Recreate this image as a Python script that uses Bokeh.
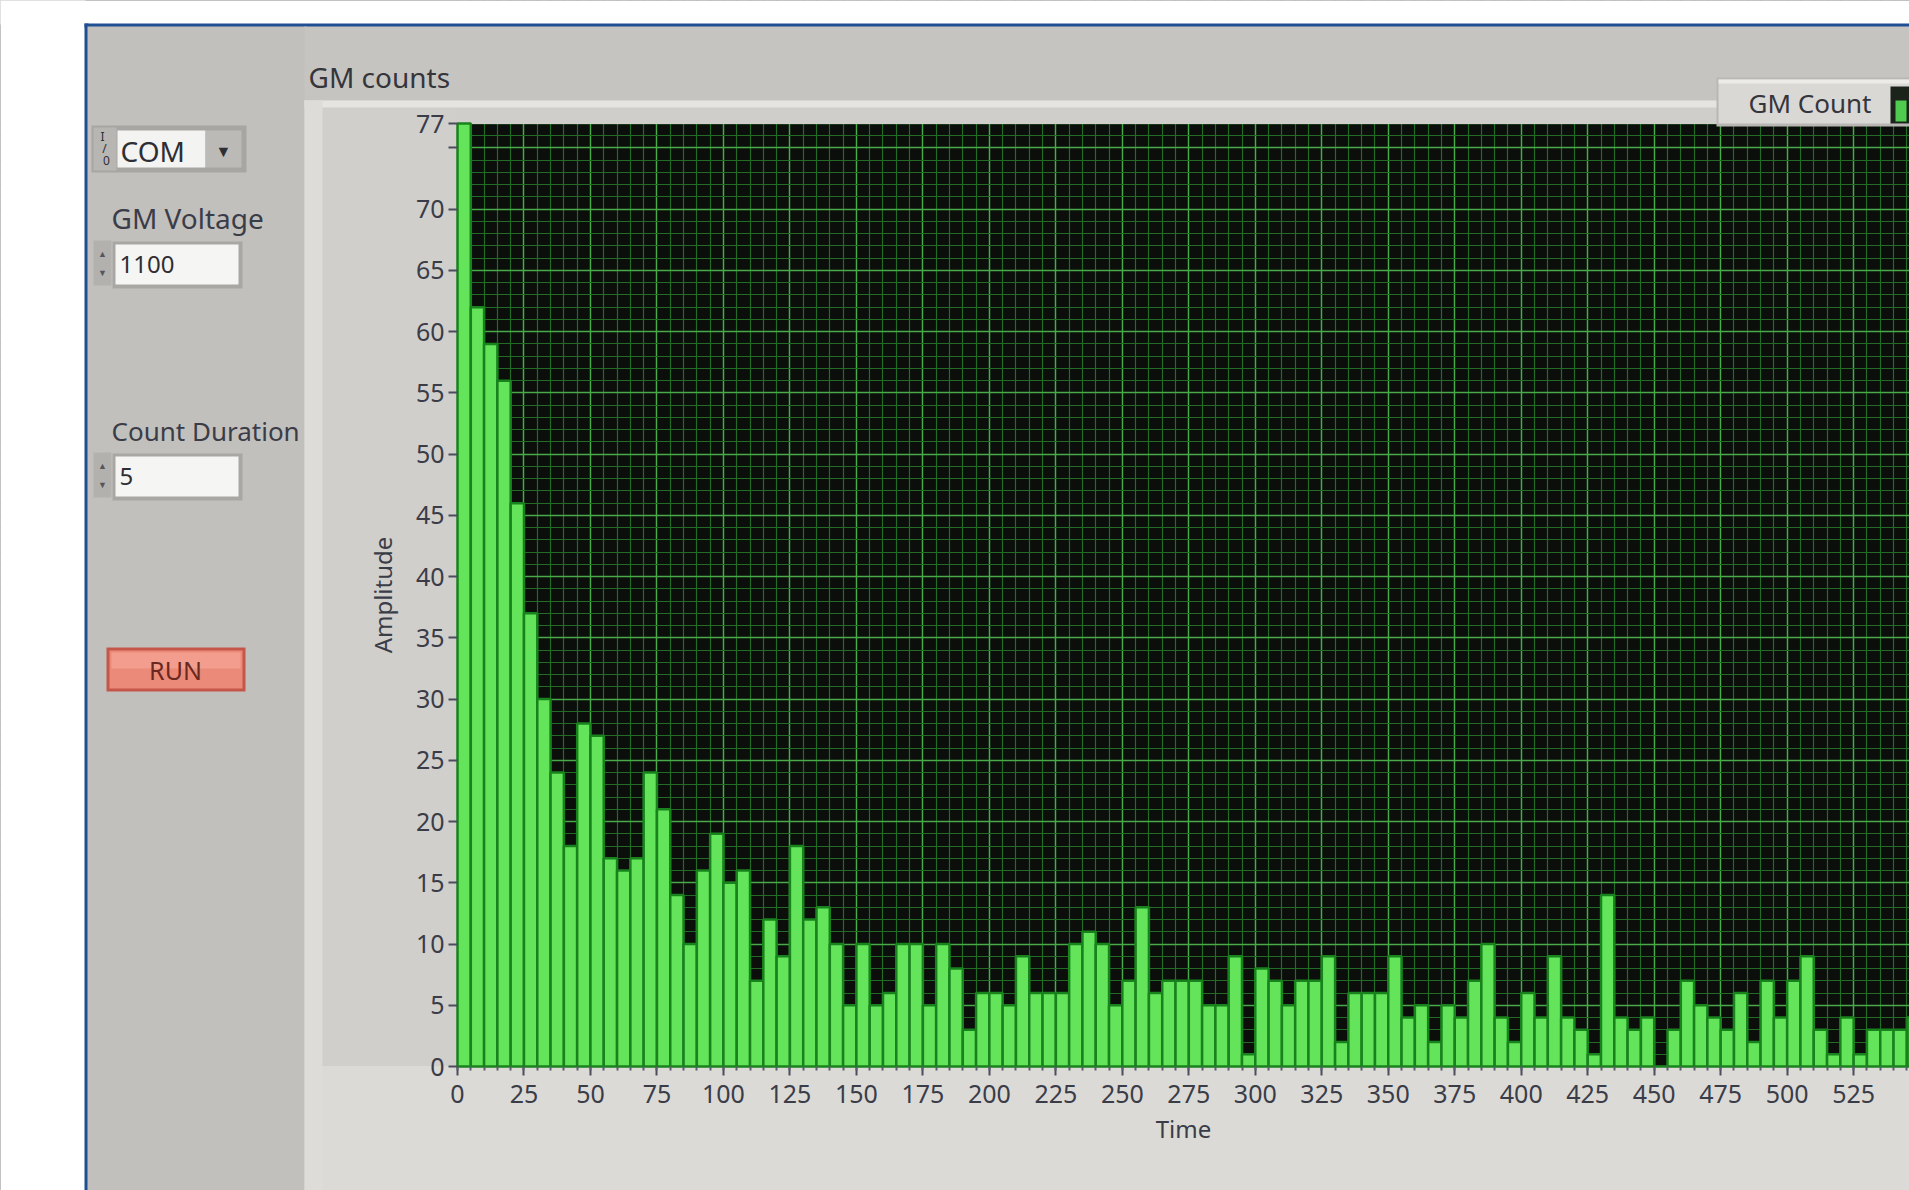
from bokeh.plotting import figure
from bokeh.models import Range1d, FixedTicker, LinearAxis, Grid, ColumnDataSource
from bokeh.core.properties import value
from bokeh.transform import dodge
from bokeh.embed import file_html
from bokeh.resources import INLINE

# ---------------- data ----------------
time_s = [0, 5, 10, 15, 20, 25, 30, 35, 40, 45,
          50, 55, 60, 65, 70, 75, 80, 85, 90, 95,
          100, 105, 110, 115, 120, 125, 130, 135, 140, 145,
          150, 155, 160, 165, 170, 175, 180, 185, 190, 195,
          200, 205, 210, 215, 220, 225, 230, 235, 240, 245,
          250, 255, 260, 265, 270, 275, 280, 285, 290, 295,
          300, 305, 310, 315, 320, 325, 330, 335, 340, 345,
          350, 355, 360, 365, 370, 375, 380, 385, 390, 395,
          400, 405, 410, 415, 420, 425, 430, 435, 440, 445,
          450, 455, 460, 465, 470, 475, 480, 485, 490, 495,
          500, 505, 510, 515, 520, 525, 530, 535, 540, 545]
gm_counts = [77, 62, 59, 56, 46, 37, 30, 24, 18, 28,
             27, 17, 16, 17, 24, 21, 14, 10, 16, 19,
             15, 16, 7, 12, 9, 18, 12, 13, 10, 5,
             10, 5, 6, 10, 10, 5, 10, 8, 3, 6,
             6, 5, 9, 6, 6, 6, 10, 11, 10, 5,
             7, 13, 6, 7, 7, 7, 5, 5, 9, 1,
             8, 7, 5, 7, 7, 9, 2, 6, 6, 6,
             9, 4, 5, 2, 5, 4, 7, 10, 4, 2,
             6, 4, 9, 4, 3, 1, 14, 4, 3, 4,
             0, 3, 7, 5, 4, 3, 6, 2, 7, 4,
             7, 9, 3, 1, 4, 1, 3, 3, 3, 4]
x_tick_values = [0, 25, 50, 75, 100, 125, 150, 175, 200, 225, 250, 275,
                 300, 325, 350, 375, 400, 425, 450, 475, 500, 525]
y_tick_values = [0, 5, 10, 15, 20, 25, 30, 35, 40, 45, 50, 55, 60, 65, 70, 75, 77]
y_unlabeled = [75]

# ---------------- geometry (picture pixels) ----------------
W, H = 1909, 1190
CX0, CY0 = 0, 0
CX1, CY1 = CX0 + W, CY0 + H
PLOT_L, PLOT_T, PLOT_B = 457, 123, 1066      # plot frame edges in the picture
T_END = 546.0                                 # time at the right edge of the canvas
PX_PER_T = (CX1 - PLOT_L) / T_END
PX_PER_A = (PLOT_B - PLOT_T) / 77.0
E = 6                                         # overdraw past the canvas edge

p = figure(width=W, height=H, output_backend="svg", toolbar_location=None,
           x_range=Range1d(CX0, CX1), y_range=Range1d(CY1, CY0),
           x_axis_type=None, y_axis_type=None,
           min_border_left=0, min_border_right=0, min_border_top=0, min_border_bottom=0)
p.background_fill_color = "#0b0e0b"
p.border_fill_color = "#ffffff"
p.outline_line_color = None
p.extra_x_ranges = {"t": Range1d((CX0 - PLOT_L) / PX_PER_T, T_END)}
p.extra_y_ranges = {"amp": Range1d((PLOT_B - CY1) / PX_PER_A, (PLOT_B - CY0) / PX_PER_A)}

FONT = "Noto Sans"
TXT = "#3a3d48"

# ---------------- grid ----------------
xt = FixedTicker(ticks=x_tick_values, minor_ticks=list(range(0, 550, 5)))
yt = FixedTicker(ticks=y_tick_values, minor_ticks=list(range(0, 78)))
for dim, tk in ((0, xt), (1, yt)):
    p.add_layout(Grid(dimension=dim, ticker=tk, x_range_name="t", y_range_name="amp",
                      grid_line_color="#48aa48", grid_line_width=1.4,
                      minor_grid_line_color="#236c26", minor_grid_line_width=1.2))

# ---------------- panel decorations (picture pixels) ----------------
def box(l, t, r, b, color):
    p.quad(left=[l], right=[r], top=[t], bottom=[b], fill_color=color, line_color=None)

def lab(x, y, text, size, color=TXT, align="left", style="normal"):
    p.text(x=[x], y=[y], text=[text], text_font=value(FONT), text_font_size=value(f"{size}px"),
           text_color=color, text_align=align, text_baseline="middle", text_font_style=style)

# white page + blue frame
box(CX0 - E, CY0 - E, CX1 + E, 24, "#ffffff")
box(CX0 - E, CY0 - E, 85, CY1 + E, "#ffffff")
box(84, 23, CX1 + E, 27, "#1f4f92")
box(84, 23, 88, CY1 + E, "#1f4f92")
# gray screen
box(87, 26, 306, CY1 + E, "#c2c0bd")
box(304, 26, CX1 + E, 102, "#c6c4c1")
# graph panel around the plot frame
box(304, 100, PLOT_L + 1, CY1 + E, "#d1cfcc")
box(PLOT_L - 1, 100, CX1 + E, PLOT_T + 0.5, "#d0cecb")
box(320, PLOT_B - 0.5, CX1 + E, CY1 + E, "#dcdad7")
box(304, 100, CX1 + E, 107, "#e6e4e1")
box(304, 100, 322, CY1 + E, "#dedcd9")

# COM ring
box(91, 125, 246, 172, "#a8a6a3")
box(93, 127, 116, 170, "#b8b6b3")
box(117, 130, 205, 167, "#f3f3f1")
box(205, 130, 241, 167, "#bcbab7")
lab(120, 150, "COM", 28, "#2e2e34")
lab(223, 150, "▼", 16, "#2e2e34", align="center")
lab(102, 136, "I", 12, "#2e2e34", align="center")
lab(104, 148, "/", 12, "#2e2e34", align="center")
lab(106, 160, "0", 12, "#2e2e34", align="center")

# GM Voltage
lab(111, 217, "GM Voltage", 28)
box(93, 240, 111, 285, "#b3b1ae")
lab(102, 253, "▲", 9, "#55555a", align="center")
lab(102, 272, "▼", 9, "#55555a", align="center")
box(112, 241, 242, 288, "#a9a7a4")
box(115, 244, 238, 284, "#f5f5f3")
lab(119, 264, "1100", 24, "#2e2e34")

# Count Duration
lab(111, 430, "Count Duration", 26)
box(93, 452, 111, 497, "#b3b1ae")
lab(102, 465, "▲", 9, "#55555a", align="center")
lab(102, 484, "▼", 9, "#55555a", align="center")
box(112, 453, 242, 500, "#a9a7a4")
box(115, 456, 238, 496, "#f5f5f3")
lab(119, 476, "5", 24, "#2e2e34")

# RUN button
box(106, 647, 245, 691, "#c4574a")
box(109, 650, 242, 688, "#ec8a79")
box(111, 652, 240, 668, "#f29d8d")
lab(175, 669, "RUN", 25, "#6a2820", align="center")

# graph caption
lab(308, 76, "GM counts", 28, "#35353c")

# plot legend
box(1716, 77, CX1 + E, 126, "#b9b7b4")
box(1718, 79, CX1 + E, 123, "#dad8d5")
box(1718, 79, CX1 + E, 83, "#ecebe8")
lab(1748, 102, "GM Count", 26, "#35353c")
box(1890, 86, CX1 + E, 123, "#1b231b")
box(1895, 100, 1906, 121, "#4fcc4f")

# ---------------- bars ----------------
src = ColumnDataSource(dict(t=time_s, c=gm_counts))
p.vbar(x=dodge("t", 2.5), top="c", bottom=0, width=5, source=src,
       x_range_name="t", y_range_name="amp",
       fill_color="#64e45a", line_color="#18821d", line_width=2.5)

# ---------------- axes ----------------
xa = LinearAxis(x_range_name="t", y_range_name="amp", fixed_location=0, ticker=xt,
                axis_label="Time", bounds=(0, 558))
ya = LinearAxis(x_range_name="t", y_range_name="amp", fixed_location=0, ticker=yt,
                axis_label="Amplitude", bounds=(0, 77))
ya.major_label_overrides = {v: "" for v in y_unlabeled}
for a in (xa, ya):
    a.axis_line_color = None
    a.major_tick_line_color = "#4a4e5c"
    a.major_tick_line_width = 2
    a.major_tick_in = 0
    a.major_label_text_font = FONT
    a.major_label_text_font_size = "25px"
    a.major_label_text_color = TXT
    a.axis_label_text_font = FONT
    a.axis_label_text_font_size = "24px"
    a.axis_label_text_font_style = "normal"
    a.axis_label_text_color = TXT
xa.major_tick_out = 9
xa.minor_tick_line_color = "#5a5e6a"
xa.minor_tick_line_width = 2
xa.minor_tick_out = 4
xa.minor_tick_in = 0
xa.major_label_standoff = 9
xa.axis_label_standoff = 6
ya.major_tick_out = 9
ya.minor_tick_line_color = None
ya.major_label_standoff = 4
ya.axis_label_standoff = 14
p.add_layout(xa, "below")
p.add_layout(ya, "left")

open("out.html", "w").write(file_html(p, INLINE))
